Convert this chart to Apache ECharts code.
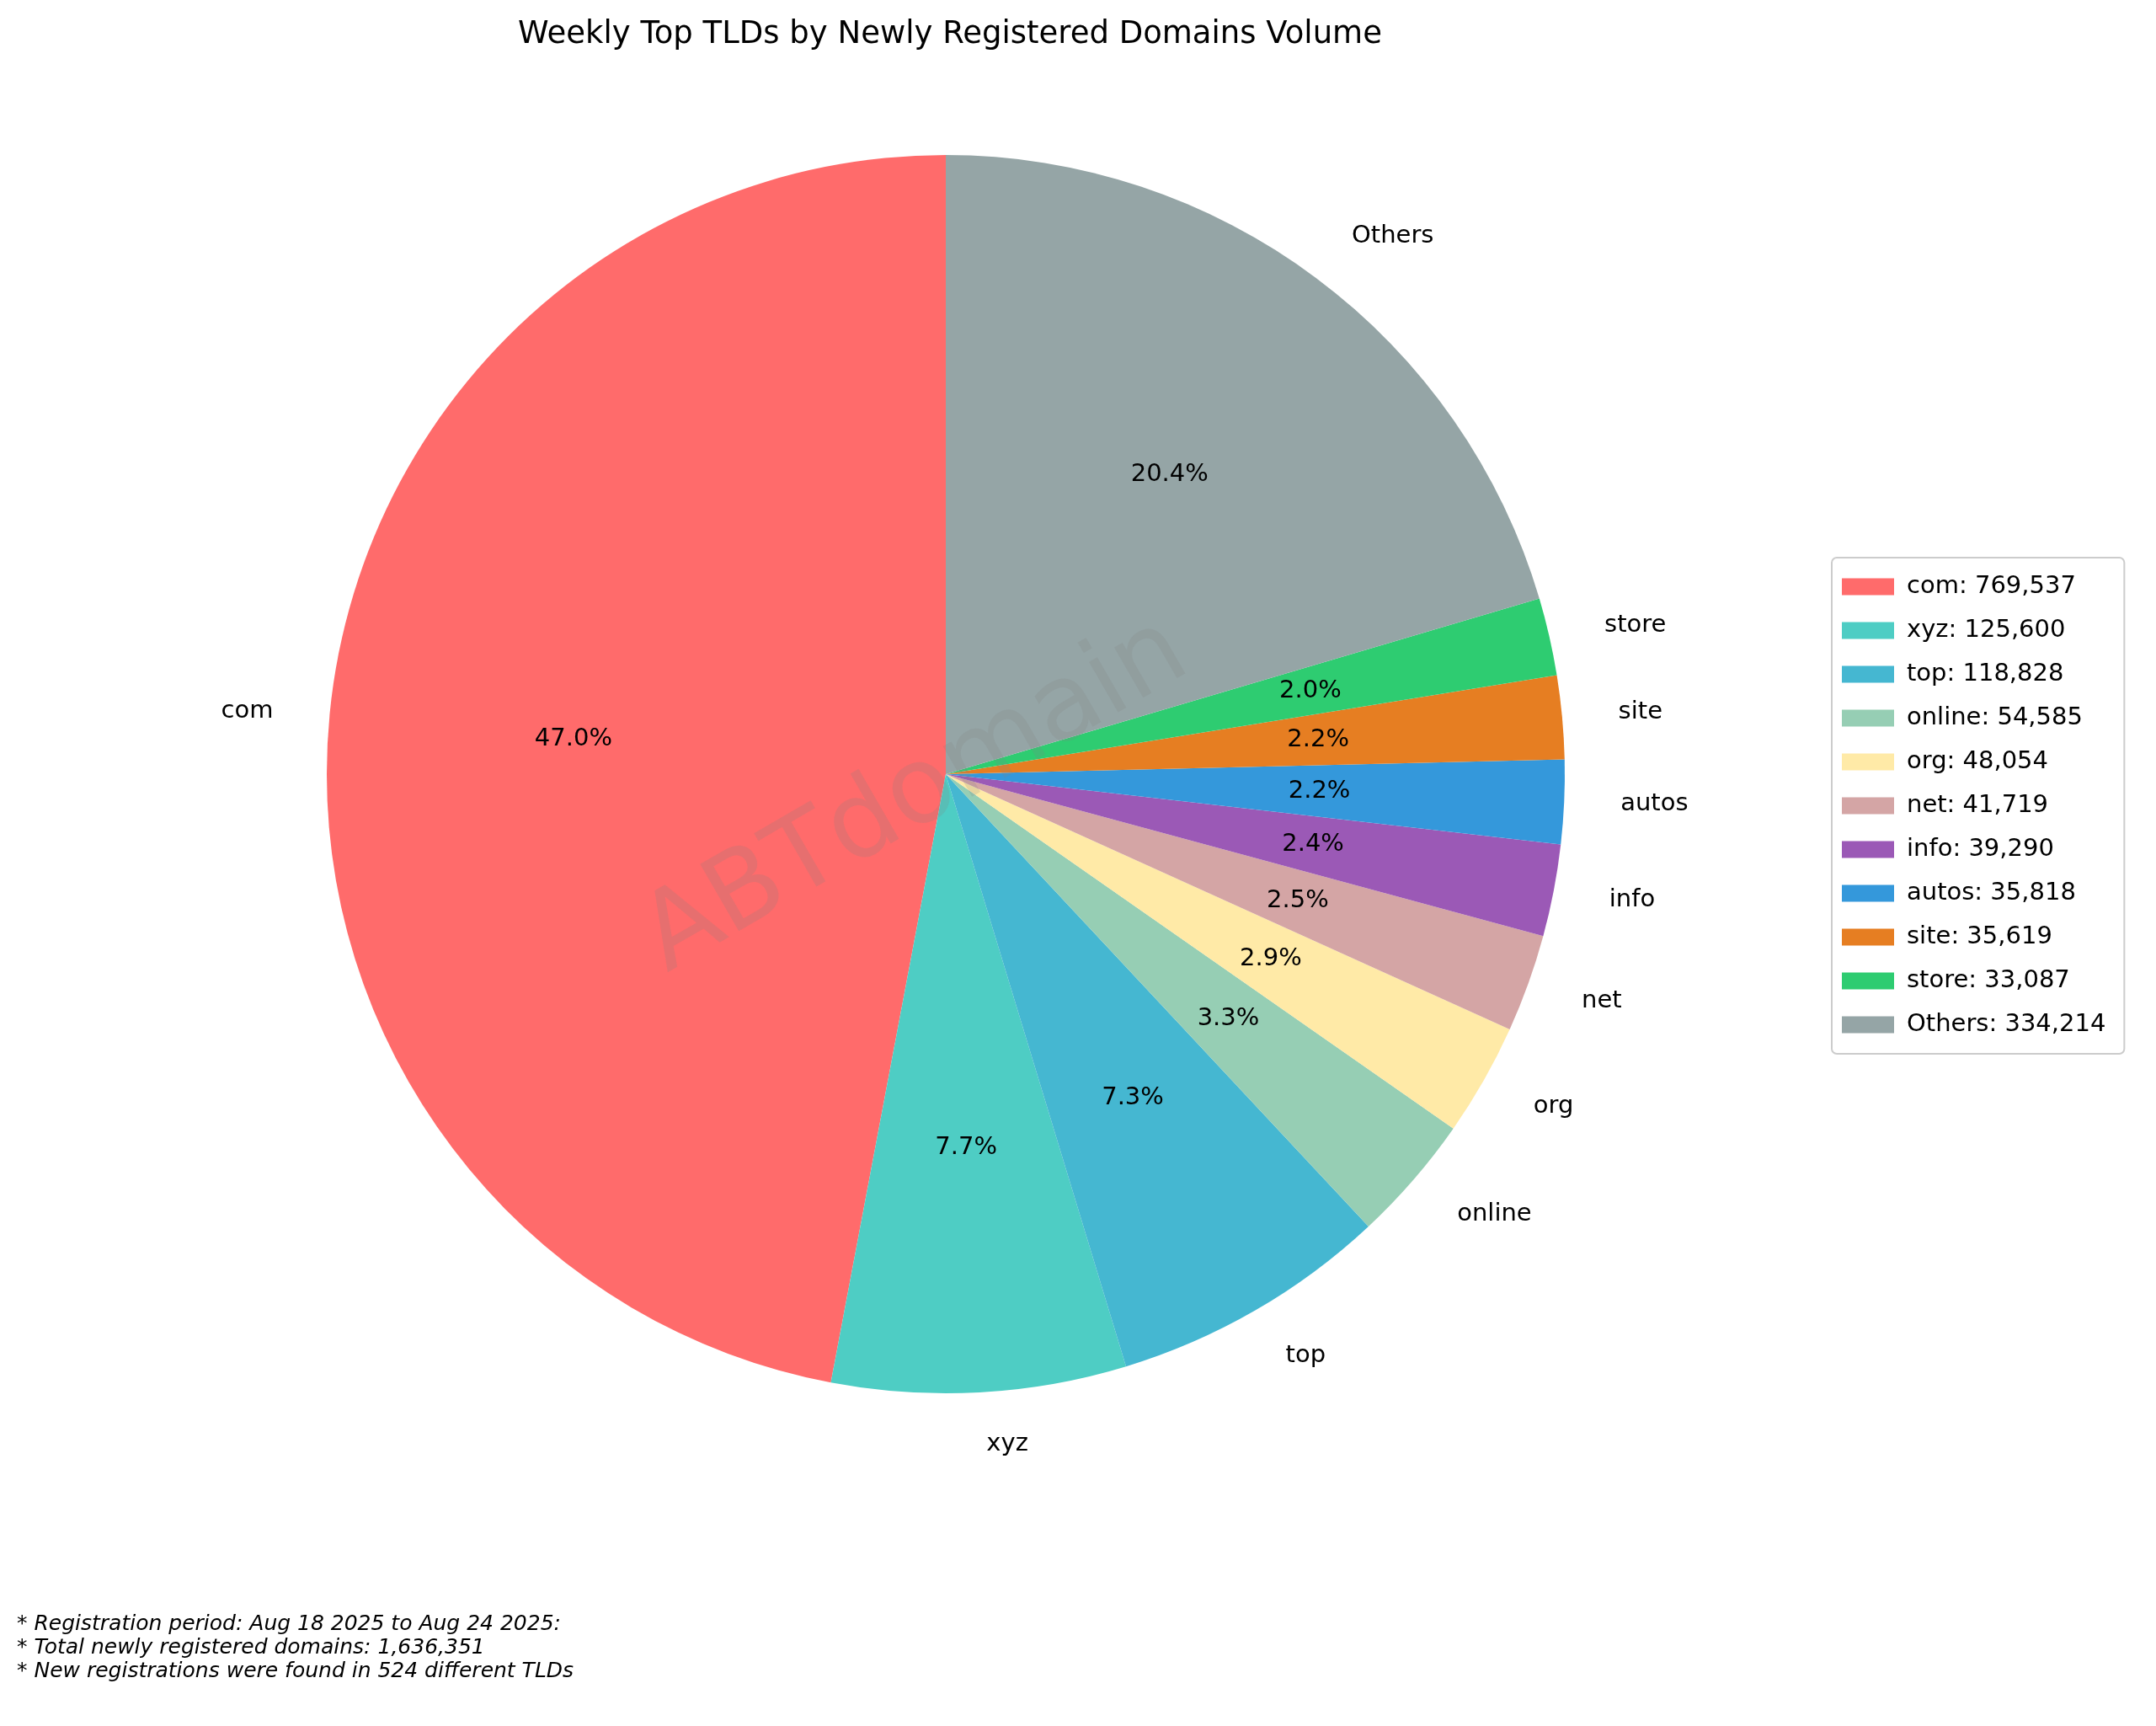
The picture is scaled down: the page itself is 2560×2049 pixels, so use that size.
<!DOCTYPE html>
<html><head><meta charset="utf-8">
<script src="https://cdn.jsdelivr.net/npm/echarts@6/dist/echarts.min.js"></script>
<style>html,body{margin:0;padding:0;background:#fff}#c{width:2560px;height:2049px}</style>
</head><body><div id="c"></div>
<script>
const categories = ['com','xyz','top','online','org','net','info','autos','site','store','Others'];
const values = [769537,125600,118828,54585,48054,41719,39290,35818,35619,33087,334214];
const colors = ['#FF6B6B','#4ECDC4','#45B7D1','#96CEB4','#FFEAA7','#D4A5A5','#9B59B6','#3498DB','#E67E22','#2ECC71','#95A5A6'];
const notes = ['* Registration period: Aug 18 2025 to Aug 24 2025:','* Total newly registered domains: 1,636,351','* New registrations were found in 524 different TLDs'];

const font = 'DejaVu Sans';
const cx = 1123, cy = 919, R = 735;
const total = values.reduce((a,b)=>a+b,0);
const data = categories.map((n,i)=>({name:n, value:values[i], itemStyle:{color:colors[i]}}));
const fmt = v => v.toLocaleString('en-US');
const chart = echarts.init(document.getElementById('c'));
chart.setOption({
  backgroundColor:'#fff',
  animation:false,
  title:{text:'Weekly Top TLDs by Newly Registered Domains Volume',left:cx,top:18,textAlign:'center',
    textStyle:{fontFamily:font,fontSize:37,fontWeight:'normal',color:'#000'}},
  legend:{orient:'vertical',left:2175,top:662,itemWidth:62,itemHeight:20,itemGap:23,
    padding:[20,22,20,12],borderColor:'#ccc',borderWidth:2,borderRadius:6,
    textStyle:{fontFamily:font,fontSize:29,color:'#000',padding:[0,0,0,10]},
    data:categories.map(n=>({name:n,icon:'rect'})),
    formatter:n=>n+': '+fmt(values[categories.indexOf(n)])},
  graphic:[
    {type:'text',x:1088,y:946,rotation:30*Math.PI/180,z:100,zlevel:1,silent:true,
      style:{text:'ABTdomain',fontFamily:font,fontSize:126,fill:'rgba(128,128,128,0.2)',align:'center',verticalAlign:'middle'}},
    {type:'text',left:20,top:1914,style:{text:notes.join('\n'),fontFamily:font,fontStyle:'italic',fontSize:25,lineHeight:28,fill:'#000'}}
  ],
  series:[
    {type:'pie',center:[cx,cy],radius:[0,R],startAngle:90,clockwise:false,data:data,
      label:{show:true,position:'outside',formatter:'{b}',fontFamily:font,fontSize:29,color:'#000'},
      labelLine:{show:false,length:62,length2:0},
      emphasis:{disabled:true},silent:true},
    {type:'pie',center:[cx,cy],radius:[R*0.2,R],startAngle:90,clockwise:false,
      data:data.map(d=>({name:d.name,value:d.value,itemStyle:{color:'rgba(0,0,0,0)'}})),
      label:{show:true,position:'inside',formatter:p=>(p.value/total*100).toFixed(1)+'%',fontFamily:font,fontSize:29,color:'#000'},
      labelLine:{show:false},emphasis:{disabled:true},silent:true,legendHoverLink:false}
  ]
});
</script></body></html>
